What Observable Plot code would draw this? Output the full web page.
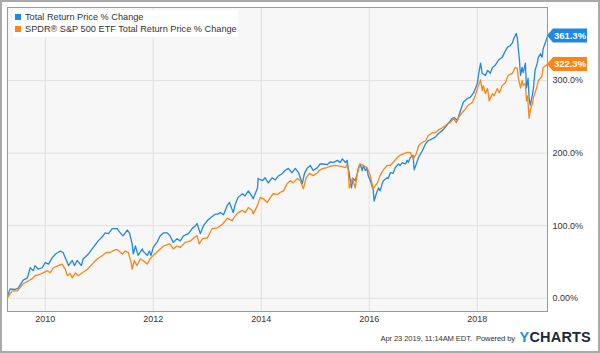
<!DOCTYPE html>
<html><head><meta charset="utf-8">
<script src="https://cdn.jsdelivr.net/npm/d3@7"></script>
<script src="https://cdn.jsdelivr.net/npm/@observablehq/plot@0.6"></script>
<style>
body{margin:0;background:#fff;font-family:"Liberation Sans",Arial,sans-serif;}
#wrap{position:relative;width:600px;height:353px;overflow:hidden;background:#fff;}
#wrap svg{position:absolute;left:0;top:0;}
#border{position:absolute;left:0;top:0;width:600px;height:353px;box-sizing:border-box;border:2px solid #a9a9a9;pointer-events:none;}
#legend{position:absolute;left:13px;top:10px;width:225px;height:27px;background:#fff;font-size:9.2px;color:#333;line-height:12px;}
#legend .row{position:absolute;left:2px;white-space:nowrap;}
#legend .sw{display:inline-block;width:6px;height:6px;margin-right:4px;vertical-align:0px;}
#footer{position:absolute;right:9px;top:328px;white-space:nowrap;color:#333;}
#footer .txt{font-size:7.6px;vertical-align:1px;letter-spacing:-0.1px;}
#footer .logo{font-size:14.5px;font-weight:bold;color:#1d2a36;letter-spacing:0.2px;}
#footer .logo b{color:#1e8fe6;}
</style></head>
<body>
<div id="wrap">
  <div id="chart"></div>
  <div id="legend"></div>
  <div id="footer"><span class="txt">Apr 23 2019, 11:14AM EDT.&nbsp; Powered by</span> <span class="logo"><b>Y</b>CHARTS</span></div>
  <div id="border"></div>
</div>
<script>
const seriesNames = ["Total Return Price % Change", "SPDR® S&P 500 ETF Total Return Price % Change"];
const seriesColors = ["#1f88e5", "#ff8414"];
const endLabels = ["361.3%", "322.3%"];

const tBlue = [2009.30,2009.35,2009.44,2009.50,2009.59,2009.67,2009.72,2009.78,2009.81,2009.87,2009.94,2010.00,2010.06,2010.13,2010.19,2010.28,2010.33,2010.41,2010.43,2010.50,2010.54,2010.59,2010.67,2010.70,2010.80,2010.89,2010.98,2011.06,2011.11,2011.17,2011.24,2011.33,2011.39,2011.44,2011.52,2011.56,2011.61,2011.63,2011.67,2011.72,2011.80,2011.81,2011.89,2011.93,2011.96,2012.00,2012.07,2012.13,2012.19,2012.26,2012.31,2012.37,2012.44,2012.50,2012.56,2012.65,2012.72,2012.78,2012.81,2012.87,2012.93,2013.00,2013.06,2013.15,2013.20,2013.24,2013.30,2013.37,2013.41,2013.48,2013.52,2013.57,2013.65,2013.70,2013.76,2013.83,2013.85,2013.93,2013.94,2014.02,2014.07,2014.13,2014.20,2014.26,2014.31,2014.39,2014.44,2014.50,2014.57,2014.63,2014.69,2014.76,2014.80,2014.85,2014.91,2014.96,2015.04,2015.09,2015.15,2015.22,2015.28,2015.33,2015.41,2015.46,2015.50,2015.56,2015.59,2015.61,2015.65,2015.67,2015.70,2015.74,2015.78,2015.80,2015.83,2015.87,2015.89,2015.93,2015.96,2015.98,2016.02,2016.06,2016.07,2016.09,2016.13,2016.17,2016.20,2016.24,2016.26,2016.33,2016.35,2016.39,2016.44,2016.48,2016.54,2016.57,2016.61,2016.67,2016.70,2016.72,2016.76,2016.81,2016.83,2016.87,2016.91,2016.98,2017.04,2017.09,2017.17,2017.22,2017.28,2017.35,2017.41,2017.46,2017.54,2017.57,2017.63,2017.69,2017.74,2017.81,2017.87,2017.93,2018.00,2018.02,2018.06,2018.09,2018.15,2018.19,2018.24,2018.28,2018.33,2018.39,2018.46,2018.52,2018.56,2018.61,2018.65,2018.67,2018.72,2018.74,2018.78,2018.80,2018.83,2018.85,2018.89,2018.91,2018.94,2018.96,2018.98,2019.02,2019.04,2019.07,2019.11,2019.13,2019.17,2019.20,2019.22,2019.26,2019.30];
const vBlue = [3,13,12,14,25,28,42,38,45,40,42,49,47,56,61,65,63,49,45,52,45,52,45,54,61,70,79,85,90,89,96,96,90,86,94,90,75,61,72,59,68,65,59,65,59,70,77,86,90,90,86,77,82,79,86,89,96,100,103,89,100,107,111,116,116,118,115,128,132,118,130,139,144,141,148,140,137,152,165,162,166,159,166,163,168,172,176,179,173,179,173,158,172,179,183,176,180,185,185,184,188,187,190,187,192,187,190,180,162,152,165,162,172,180,185,176,183,176,179,169,162,152,151,134,144,152,148,158,162,166,165,173,172,180,185,183,187,185,190,187,194,197,177,185,194,203,213,217,220,222,227,231,236,241,248,249,245,259,270,275,277,283,296,307,324,310,307,314,310,318,321,328,332,341,346,348,352,357,365,359,328,307,318,311,324,290,303,275,266,280,290,314,324,332,337,332,344,352,361.3];

const tOrange = [2009.30,2009.39,2009.48,2009.54,2009.59,2009.69,2009.76,2009.81,2009.87,2009.96,2010.04,2010.09,2010.15,2010.24,2010.31,2010.37,2010.41,2010.46,2010.50,2010.56,2010.61,2010.69,2010.78,2010.87,2010.96,2011.06,2011.13,2011.20,2011.30,2011.33,2011.43,2011.48,2011.54,2011.59,2011.61,2011.65,2011.70,2011.76,2011.81,2011.89,2011.94,2012.00,2012.09,2012.19,2012.26,2012.31,2012.37,2012.44,2012.50,2012.59,2012.69,2012.78,2012.81,2012.85,2012.91,2013.00,2013.09,2013.19,2013.28,2013.37,2013.46,2013.52,2013.57,2013.65,2013.70,2013.76,2013.83,2013.85,2013.93,2013.98,2014.04,2014.11,2014.17,2014.22,2014.30,2014.35,2014.41,2014.48,2014.54,2014.59,2014.67,2014.72,2014.78,2014.83,2014.89,2014.96,2015.04,2015.09,2015.15,2015.22,2015.28,2015.37,2015.46,2015.56,2015.59,2015.61,2015.63,2015.69,2015.70,2015.74,2015.78,2015.83,2015.89,2015.96,2016.02,2016.06,2016.07,2016.15,2016.20,2016.26,2016.33,2016.39,2016.44,2016.52,2016.57,2016.63,2016.70,2016.76,2016.81,2016.87,2016.91,2016.98,2017.04,2017.09,2017.17,2017.22,2017.28,2017.35,2017.41,2017.46,2017.50,2017.56,2017.61,2017.65,2017.72,2017.78,2017.83,2017.91,2017.96,2018.02,2018.06,2018.09,2018.11,2018.15,2018.19,2018.22,2018.28,2018.31,2018.37,2018.41,2018.46,2018.52,2018.57,2018.65,2018.70,2018.74,2018.76,2018.80,2018.83,2018.85,2018.89,2018.91,2018.93,2018.96,2018.98,2019.02,2019.04,2019.07,2019.11,2019.13,2019.17,2019.20,2019.22,2019.30];
const vOrange = [1,10,10,15,20,24,27,31,32,35,38,35,42,45,47,40,31,34,28,35,31,35,40,47,54,59,63,63,67,67,61,65,63,49,40,52,45,54,52,47,54,59,65,72,74,75,68,72,70,77,79,85,86,75,82,83,96,97,102,110,107,114,118,121,118,125,121,116,128,139,137,132,139,144,143,146,148,158,162,159,165,162,151,166,172,169,173,177,179,180,182,183,182,180,185,176,152,166,162,152,172,185,183,180,169,155,151,159,169,177,183,183,187,194,197,199,201,201,192,199,210,215,217,224,228,228,232,235,238,241,242,248,242,249,256,261,266,270,279,293,301,286,293,282,289,272,282,279,289,283,293,297,307,310,318,317,303,290,300,293,296,272,279,248,259,268,277,283,293,300,303,307,318,322.3];

const xTickYears = [2010, 2012, 2014, 2016, 2018];
const yTicks = [0, 100, 200, 300];
const yTickLabels = ["0.00%", "100.0%", "200.0%", "300.0%"];

function toDate(t) {
  const y = Math.floor(t);
  const s = Date.UTC(y, 0, 1), e = Date.UTC(y + 1, 0, 1);
  return new Date(s + (t - y) * (e - s));
}
const blue = tBlue.map((t, i) => ({date: toDate(t), value: vBlue[i]}));
const orange = tOrange.map((t, i) => ({date: toDate(t), value: vOrange[i]}));
const xTicks = xTickYears.map(y => new Date(Date.UTC(y, 0, 1)));
const xDomain = d3.extent(blue.concat(orange), d => d.date);

const chart = Plot.plot({
  width: 600, height: 353,
  marginTop: 7, marginRight: 53, marginBottom: 42, marginLeft: 7,
  style: {fontSize: "9px", fontFamily: "'Liberation Sans', Arial, sans-serif", color: "#333", background: "transparent"},
  x: {type: "utc", domain: xDomain, ticks: xTicks, tickFormat: "%Y", tickSize: 0, tickPadding: 4, label: null},
  y: {domain: [-18.3, 400.7], axis: "right", ticks: yTicks, tickFormat: d => yTickLabels[yTicks.indexOf(d)], tickSize: 0, tickPadding: 5, label: null},
  marks: [
    Plot.frame({fill: "#f7f7f7"}),
    Plot.gridY(yTicks, {stroke: "#e2e2e2", strokeOpacity: 1}),
    Plot.gridX(xTicks, {stroke: "#e2e2e2", strokeOpacity: 1}),
    Plot.line(blue, {x: "date", y: "value", stroke: seriesColors[0], strokeWidth: 1.3}),
    Plot.line(orange, {x: "date", y: "value", stroke: seriesColors[1], strokeWidth: 1.3}),
    Plot.frame({stroke: "#9a9a9a"})
  ]
});
document.getElementById("chart").appendChild(chart);

// end-value tags using the plot's own scales
const ys = chart.scale("y"), xs = chart.scale("x");
const svg = d3.select(chart);
const tipX = xs.apply(xDomain[1]);
const lastVals = [vBlue[vBlue.length - 1], vOrange[vOrange.length - 1]];
lastVals.forEach((v, i) => {
  const y = ys.apply(v);
  const g = svg.append("g");
  g.append("path")
    .attr("d", `M${tipX},${y} L${tipX + 6},${y - 7} L${tipX + 40},${y - 7} L${tipX + 40},${y + 7} L${tipX + 6},${y + 7} Z`)
    .attr("fill", seriesColors[i]);
  g.append("text").attr("x", tipX + 23).attr("y", y).attr("dy", "0.35em")
    .attr("text-anchor", "middle").attr("fill", "#fff").attr("font-weight", "bold")
    .attr("font-size", "9.5px").text(endLabels[i]);
});

// legend
const legend = d3.select("#legend");
seriesNames.forEach((n, i) => {
  const row = legend.append("div").attr("class", "row").style("top", (i * 12 + 1) + "px");
  row.append("span").attr("class", "sw").style("background", seriesColors[i]);
  row.append("span").text(n);
});
</script>
</body></html>
